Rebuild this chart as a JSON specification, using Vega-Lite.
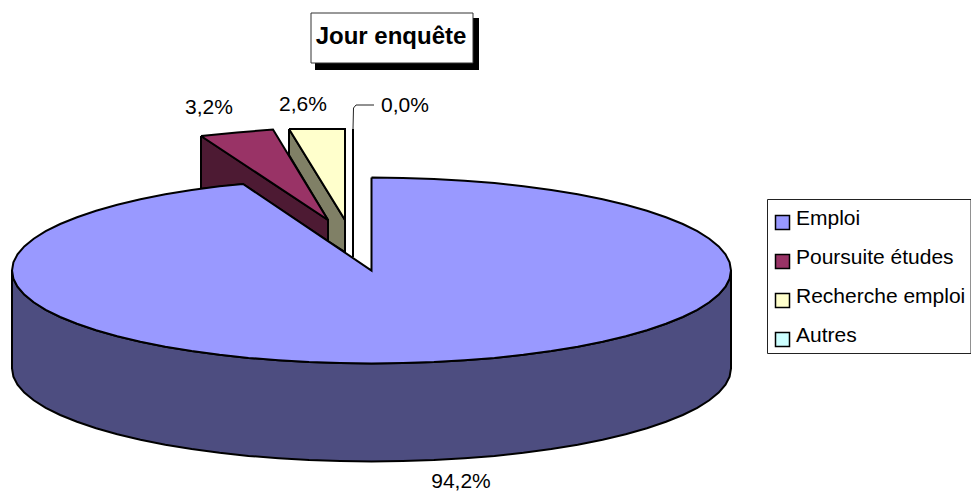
{
"$schema":"https://vega.github.io/schema/vega-lite/v6.json",
"width":971,"height":492,"padding":0,"autosize":{"type":"none"},
"background":"white",
"config":{"view":{"stroke":null}},
"datasets":{
"tops":[
{"situation":"Autres","n":1,"x":353,"y":129},{"situation":"Autres","n":2,"x":353,"y":257},{"situation":"Autres","n":3,"x":353,"y":129},
{"situation":"Recherche emploi","n":1,"x":289,"y":129},{"situation":"Recherche emploi","n":2,"x":345,"y":129},{"situation":"Recherche emploi","n":3,"x":345,"y":220},{"situation":"Recherche emploi","n":4,"x":289,"y":129},
{"situation":"Poursuite études","n":1,"x":201,"y":136},{"situation":"Poursuite études","n":2,"x":237,"y":132.5},{"situation":"Poursuite études","n":3,"x":273,"y":129.5},{"situation":"Poursuite études","n":4,"x":328,"y":220},{"situation":"Poursuite études","n":5,"x":201,"y":136},
{"situation":"Emploi","n":1,"x":371.5,"y":177.5},{"situation":"Emploi","n":2,"x":402.8,"y":177.9},{"situation":"Emploi","n":3,"x":433.9,"y":178.9},{"situation":"Emploi","n":4,"x":464.5,"y":180.7},{"situation":"Emploi","n":5,"x":494.5,"y":183.1},{"situation":"Emploi","n":6,"x":523.4,"y":186.2},{"situation":"Emploi","n":7,"x":551.3,"y":190},{"situation":"Emploi","n":8,"x":577.7,"y":194.3},{"situation":"Emploi","n":9,"x":602.6,"y":199.3},{"situation":"Emploi","n":10,"x":625.7,"y":204.7},{"situation":"Emploi","n":11,"x":646.9,"y":210.7},{"situation":"Emploi","n":12,"x":666,"y":217.2},{"situation":"Emploi","n":13,"x":682.8,"y":224},{"situation":"Emploi","n":14,"x":697.3,"y":231.2},{"situation":"Emploi","n":15,"x":709.3,"y":238.7},{"situation":"Emploi","n":16,"x":718.7,"y":246.4},{"situation":"Emploi","n":17,"x":725.5,"y":254.4},{"situation":"Emploi","n":18,"x":729.6,"y":262.4},{"situation":"Emploi","n":19,"x":731,"y":270.5},
{"situation":"Emploi","n":20,"x":729.6,"y":278.6},{"situation":"Emploi","n":21,"x":725.5,"y":286.6},{"situation":"Emploi","n":22,"x":718.7,"y":294.6},{"situation":"Emploi","n":23,"x":709.3,"y":302.3},{"situation":"Emploi","n":24,"x":697.3,"y":309.8},{"situation":"Emploi","n":25,"x":682.8,"y":317},{"situation":"Emploi","n":26,"x":666,"y":323.8},{"situation":"Emploi","n":27,"x":646.9,"y":330.3},{"situation":"Emploi","n":28,"x":625.7,"y":336.3},{"situation":"Emploi","n":29,"x":602.6,"y":341.7},{"situation":"Emploi","n":30,"x":577.7,"y":346.7},{"situation":"Emploi","n":31,"x":551.3,"y":351},{"situation":"Emploi","n":32,"x":523.4,"y":354.8},{"situation":"Emploi","n":33,"x":494.5,"y":357.9},{"situation":"Emploi","n":34,"x":464.5,"y":360.3},{"situation":"Emploi","n":35,"x":433.9,"y":362.1},{"situation":"Emploi","n":36,"x":402.8,"y":363.1},{"situation":"Emploi","n":37,"x":371.5,"y":363.5},
{"situation":"Emploi","n":38,"x":340.2,"y":363.1},{"situation":"Emploi","n":39,"x":309.1,"y":362.1},{"situation":"Emploi","n":40,"x":278.5,"y":360.3},{"situation":"Emploi","n":41,"x":248.5,"y":357.9},{"situation":"Emploi","n":42,"x":219.6,"y":354.8},{"situation":"Emploi","n":43,"x":191.7,"y":351},{"situation":"Emploi","n":44,"x":165.3,"y":346.7},{"situation":"Emploi","n":45,"x":140.4,"y":341.7},{"situation":"Emploi","n":46,"x":117.3,"y":336.3},{"situation":"Emploi","n":47,"x":96.1,"y":330.3},{"situation":"Emploi","n":48,"x":77,"y":323.8},{"situation":"Emploi","n":49,"x":60.2,"y":317},{"situation":"Emploi","n":50,"x":45.7,"y":309.8},{"situation":"Emploi","n":51,"x":33.7,"y":302.3},{"situation":"Emploi","n":52,"x":24.3,"y":294.6},{"situation":"Emploi","n":53,"x":17.5,"y":286.6},{"situation":"Emploi","n":54,"x":13.4,"y":278.6},{"situation":"Emploi","n":55,"x":12,"y":270.5},
{"situation":"Emploi","n":56,"x":13.4,"y":262.4},{"situation":"Emploi","n":57,"x":17.5,"y":254.4},{"situation":"Emploi","n":58,"x":24.3,"y":246.4},{"situation":"Emploi","n":59,"x":33.7,"y":238.7},{"situation":"Emploi","n":60,"x":45.7,"y":231.2},{"situation":"Emploi","n":61,"x":60.2,"y":224},{"situation":"Emploi","n":62,"x":77,"y":217.2},{"situation":"Emploi","n":63,"x":96.1,"y":210.7},{"situation":"Emploi","n":64,"x":117.3,"y":204.7},{"situation":"Emploi","n":65,"x":140.4,"y":199.3},{"situation":"Emploi","n":66,"x":165.3,"y":194.3},{"situation":"Emploi","n":67,"x":191.7,"y":190},{"situation":"Emploi","n":68,"x":219.6,"y":186.2},{"situation":"Emploi","n":69,"x":243,"y":184},{"situation":"Emploi","n":70,"x":371.5,"y":270.5},{"situation":"Emploi","n":71,"x":371.5,"y":177.5}
],
"walls":[
{"situation":"Recherche emploi","n":1,"x":289,"y":129},{"situation":"Recherche emploi","n":2,"x":345,"y":220},{"situation":"Recherche emploi","n":3,"x":345,"y":252},{"situation":"Recherche emploi","n":4,"x":328,"y":241},{"situation":"Recherche emploi","n":5,"x":328,"y":220},{"situation":"Recherche emploi","n":6,"x":289,"y":155},{"situation":"Recherche emploi","n":7,"x":289,"y":129},
{"situation":"Poursuite études","n":1,"x":201,"y":136},{"situation":"Poursuite études","n":2,"x":328,"y":220},{"situation":"Poursuite études","n":3,"x":328,"y":241},{"situation":"Poursuite études","n":4,"x":243,"y":184},{"situation":"Poursuite études","n":5,"x":201,"y":189},{"situation":"Poursuite études","n":6,"x":201,"y":136}
],
"rim":[
{"x":12,"y":270.5,"y2":368.5},{"x":13.4,"y":278.6,"y2":376.6},{"x":17.5,"y":286.6,"y2":384.6},{"x":24.3,"y":294.6,"y2":392.6},{"x":33.7,"y":302.3,"y2":400.3},{"x":45.7,"y":309.8,"y2":407.8},{"x":60.2,"y":317,"y2":415},{"x":77,"y":323.8,"y2":421.8},{"x":96.1,"y":330.3,"y2":428.3},{"x":117.3,"y":336.3,"y2":434.3},{"x":140.4,"y":341.7,"y2":439.7},{"x":165.3,"y":346.7,"y2":444.7},{"x":191.7,"y":351,"y2":449},{"x":219.6,"y":354.8,"y2":452.8},{"x":248.5,"y":357.9,"y2":455.9},{"x":278.5,"y":360.3,"y2":458.3},{"x":309.1,"y":362.1,"y2":460.1},{"x":340.2,"y":363.1,"y2":461.1},{"x":371.5,"y":363.5,"y2":461.5},{"x":402.8,"y":363.1,"y2":461.1},{"x":433.9,"y":362.1,"y2":460.1},{"x":464.5,"y":360.3,"y2":458.3},{"x":494.5,"y":357.9,"y2":455.9},{"x":523.4,"y":354.8,"y2":452.8},{"x":551.3,"y":351,"y2":449},{"x":577.7,"y":346.7,"y2":444.7},{"x":602.6,"y":341.7,"y2":439.7},{"x":625.7,"y":336.3,"y2":434.3},{"x":646.9,"y":330.3,"y2":428.3},{"x":666,"y":323.8,"y2":421.8},{"x":682.8,"y":317,"y2":415},{"x":697.3,"y":309.8,"y2":407.8},{"x":709.3,"y":302.3,"y2":400.3},{"x":718.7,"y":294.6,"y2":392.6},{"x":725.5,"y":286.6,"y2":384.6},{"x":729.6,"y":278.6,"y2":376.6},{"x":731,"y":270.5,"y2":368.5}
],
"labels":[
{"situation":"Emploi","part":94.2,"label":"94,2%","x":461,"y":487.5},
{"situation":"Poursuite études","part":3.2,"label":"3,2%","x":209,"y":114},
{"situation":"Recherche emploi","part":2.6,"label":"2,6%","x":303,"y":111},
{"situation":"Autres","part":0,"label":"0,0%","x":405,"y":112}
]
},
"encoding":{
"x":{"field":"x","type":"quantitative","axis":null,"scale":{"domain":[0,971],"nice":false,"zero":false}},
"y":{"field":"y","type":"quantitative","axis":null,"scale":{"domain":[492,0],"nice":false,"zero":false}}
},
"layer":[
{"data":{"values":[{"x":315,"x2":479,"y":18,"y2":70}]},"mark":{"type":"rect","fill":"black"},"encoding":{"x2":{"field":"x2"},"y2":{"field":"y2"}}},
{"data":{"values":[{"x":311,"x2":473,"y":13,"y2":63}]},"mark":{"type":"rect","fill":"white","stroke":"#333333","strokeWidth":1},"encoding":{"x2":{"field":"x2"},"y2":{"field":"y2"}}},
{"data":{"values":[{"x":767.5,"x2":971,"y":199.5,"y2":353.5}]},"mark":{"type":"rect","fill":"white","stroke":"#222222","strokeWidth":1,"clip":false},"encoding":{"x2":{"field":"x2"},"y2":{"field":"y2"}}},
{"data":{"values":[{"titre":"Jour enquête","x":391,"y":44}]},"mark":{"type":"text","font":"Liberation Sans","fontWeight":"bold","fontSize":24,"align":"center","baseline":"alphabetic","color":"black"},"encoding":{"text":{"field":"titre"}}},
{"data":{"name":"walls"},"mark":{"type":"line","stroke":"black","strokeWidth":2,"strokeJoin":"miter"},
 "encoding":{"order":{"field":"n"},"fill":{"field":"situation","type":"nominal","legend":null,"scale":{"domain":["Recherche emploi","Poursuite études"],"range":["#808066","#4D1A33"]}}}},
{"data":{"name":"rim"},"mark":{"type":"area","fill":"#4D4D80","stroke":"black","strokeWidth":2},"encoding":{"y2":{"field":"y2"}}},
{"data":{"name":"tops"},"mark":{"type":"line","stroke":"black","strokeWidth":2,"strokeJoin":"miter"},
 "encoding":{"order":{"field":"n"},"fill":{"field":"situation","type":"nominal","sort":null,"scale":{"domain":["Emploi","Poursuite études","Recherche emploi","Autres"],"range":["#9999FF","#993366","#FFFFCC","#CCFFFF"]},
  "legend":{"title":null,"orient":"none","legendX":767,"legendY":202,"padding":10,"symbolOffset":-5,"symbolType":"square","symbolSize":196,"symbolStrokeColor":"black","symbolStrokeWidth":1.5,"labelFont":"Liberation Sans","labelFontSize":21,"labelColor":"black","labelOffset":3,"labelLimit":300,"rowPadding":13,"encode":{"labels":{"update":{"dy":{"value":-4}}}}}}}},
{"data":{"values":[{"n":1,"x":353,"y":129},{"n":2,"x":353.5,"y":108},{"n":3,"x":356,"y":105},{"n":4,"x":374,"y":105}]},"mark":{"type":"line","stroke":"#222222","strokeWidth":1},"encoding":{"order":{"field":"n"}}},
{"data":{"name":"labels"},"mark":{"type":"text","font":"Liberation Sans","fontSize":21,"align":"center","baseline":"alphabetic","color":"black"},"encoding":{"text":{"field":"label"}}}
],
"resolve":{"scale":{"fill":"independent"}}
}
